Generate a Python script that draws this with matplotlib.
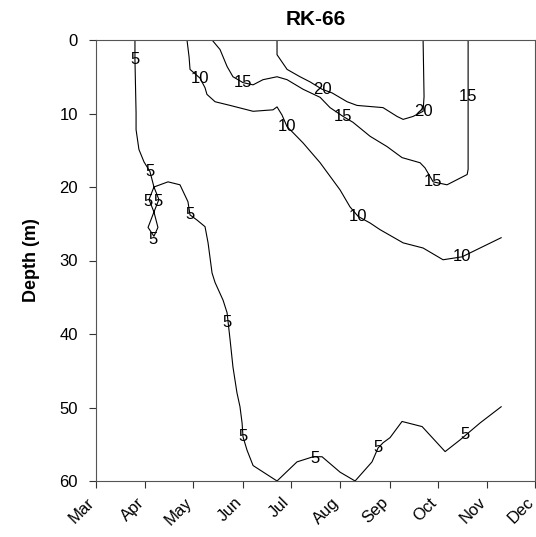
import matplotlib
matplotlib.use('Agg')

import matplotlib.pyplot as plt
from matplotlib.transforms import ScaledTranslation

plt.rcParams['font.family'] = ['Liberation Sans', 'DejaVu Sans']

# Month ticks (day of year, 1st of each month)
month_days = [60, 91, 121, 152, 182, 213, 244, 274, 305, 335]
month_names = ['Mar', 'Apr', 'May', 'Jun', 'Jul', 'Aug', 'Sep', 'Oct', 'Nov', 'Dec']

# Isotherms: day of year / depth (m)
iso5_day = [84.4, 84.4, 85.1, 85.1, 86.9, 90.1, 93.8, 96.3, 105.1, 112.6, 117.6, 118.9,
            123.3, 128.3, 130.2, 132.7, 134.6, 139.6, 142.1, 144.0, 145.8, 148.3, 150.2,
            151.5, 152.1, 154.6, 158.4, 173.4, 185.9, 196.0, 201.6, 212.9, 222.3, 232.9,
            236.7, 239.8, 244.2, 251.7, 264.3, 278.7, 288.1, 300.6, 313.8]
iso5_depth = [0, 2.7, 9.9, 12.2, 14.9, 16.6, 17.9, 20.0, 19.3, 19.7, 22.0, 23.8,
              24.5, 25.4, 27.6, 31.7, 33.0, 35.4, 37.1, 40.8, 44.5, 48.0, 49.9,
              52.1, 54.0, 55.8, 57.9, 60.0, 57.4, 56.7, 56.7, 58.8, 60.0, 57.4,
              55.5, 54.8, 54.1, 51.9, 52.6, 56.0, 54.4, 52.1, 49.9]

loop5_day = [96.3, 93.2, 96.3, 98.8, 96.3, 92.6, 96.3, 99.4, 96.3]
loop5_depth = [20.0, 21.7, 23.4, 25.5, 26.7, 25.5, 23.4, 21.7, 20.0]

iso10_day = [117.0, 118.3, 118.9, 125.2, 128.3, 129.5, 134.6, 144.0, 158.4, 170.9, 173.4,
             176.5, 179.7, 183.4, 189.7, 200.4, 212.9, 219.1, 224.2, 231.7, 237.9, 252.4,
             264.9, 277.4, 289.3, 298.7, 313.8]
iso10_depth = [0, 2.3, 4.0, 5.2, 6.5, 7.4, 8.4, 8.9, 9.7, 9.5, 9.1,
               10.2, 11.8, 12.6, 14.0, 16.7, 20.4, 22.7, 24.0, 24.9, 25.8, 27.6,
               28.3, 29.9, 29.5, 28.5, 26.9]

iso15_day = [132.7, 137.7, 142.1, 145.8, 152.1, 158.4, 164.6, 173.4, 179.7, 189.7, 200.4,
             206.6, 214.8, 221.0, 231.7, 242.3, 251.7, 263.0, 266.1, 271.2, 279.9, 292.5,
             293.1, 293.1, 293.1]
iso15_depth = [0, 1.3, 3.6, 5.0, 5.8, 6.1, 5.4, 5.0, 5.4, 6.7, 7.8,
               9.2, 10.4, 11.2, 13.1, 14.5, 16.0, 16.7, 17.4, 19.3, 19.7, 18.3,
               17.6, 7.7, 0]

iso20_day = [173.4, 173.4, 179.7, 187.8, 194.1, 201.6, 207.9, 217.3, 223.5, 239.8, 248.6,
             252.4, 258.6, 264.9, 265.5, 264.9]
iso20_depth = [0, 2.0, 4.0, 5.0, 5.7, 6.7, 7.2, 8.4, 8.9, 9.2, 10.4,
               10.8, 10.4, 9.7, 7.7, 0]

# Contour labels: value, day, depth
label_vals = ['5', '5', '5', '5', '5', '5', '5', '5', '5', '5', '5',
              '10', '10', '10', '10', '15', '15', '15', '15', '20', '20']
label_day = [84.4, 93.8, 92.6, 98.8, 95.7, 118.9, 142.1, 152.1, 197.2, 236.7, 291.2,
             125.2, 179.7, 224.2, 289.3, 152.1, 214.8, 271.2, 293.1, 201.6, 264.9]
label_depth = [2.7, 17.9, 22.0, 22.0, 27.2, 23.8, 38.5, 54.0, 56.9, 55.5, 53.7,
               5.2, 11.8, 24.0, 29.5, 5.8, 10.4, 19.3, 7.7, 6.7, 9.7]

fig = plt.figure(figsize=(5.36, 5.37), dpi=100)
ax = fig.add_axes([96 / 536, 56 / 537, 439 / 536, 441 / 537])

for xs, ys in [(iso5_day, iso5_depth), (loop5_day, loop5_depth), (iso10_day, iso10_depth),
               (iso15_day, iso15_depth), (iso20_day, iso20_depth)]:
    ax.plot(xs, ys, color='black', lw=0.8)

for t, xd, yd in zip(label_vals, label_day, label_depth):
    ax.text(xd, yd, t, fontsize=12, ha='center', va='center', color='black')

ax.set_xlim(60, 335)
ax.set_ylim(60, 0)
ax.set_yticks([0, 10, 20, 30, 40, 50, 60])
ax.set_xticks(month_days)
ax.set_xticklabels(month_names, rotation=45, ha='right', rotation_mode='anchor')
ax.tick_params(direction='out', length=5, width=0.8, labelsize=12, colors='#333333',
               labelcolor='black')
ax.tick_params(axis='y', pad=8)
shift = ScaledTranslation(-9 / 100, -2 / 100, fig.dpi_scale_trans)
for lab in ax.get_xticklabels():
    lab.set_transform(lab.get_transform() + shift)
for s in ax.spines.values():
    s.set_color('#555555')
    s.set_linewidth(0.8)

ax.set_ylabel('Depth (m)', fontsize=13, fontweight='bold', labelpad=14)
ax.set_title('RK-66', fontsize=15, fontweight='bold', pad=11)

fig.savefig('out.png', dpi=100)
